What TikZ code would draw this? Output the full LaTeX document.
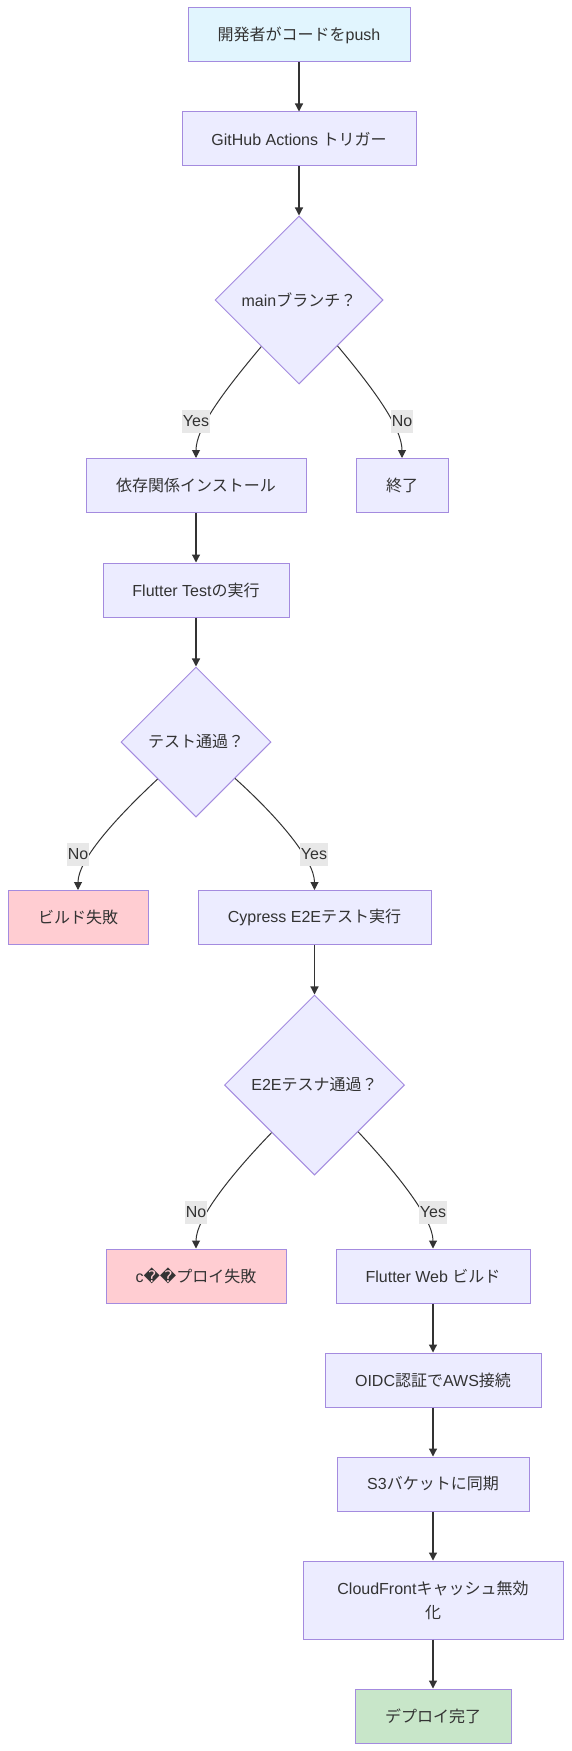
\documentclass[tikz,border=0pt]{standalone}
\usepackage{fontspec}
\setmainfont{Liberation Sans}
\newfontfamily\jpfont{Noto Sans CJK JP}
\newfontfamily\repfont{DejaVu Sans}
\newcommand{\jt}[1]{{\jpfont #1}}
\usetikzlibrary{shapes.geometric,arrows.meta}
\definecolor{nodefill}{HTML}{ECECFF}
\definecolor{nodeline}{HTML}{A48BDF}
\definecolor{startfill}{HTML}{E1F5FE}
\definecolor{failfill}{HTML}{FFCDD2}
\definecolor{donefill}{HTML}{C8E6C9}
\definecolor{ink}{HTML}{333333}
\definecolor{lblbg}{HTML}{E8E8E8}
\tikzset{
  box/.style={rectangle, draw=nodeline, fill=nodefill, line width=0.75pt,
    minimum height=40.5pt, inner sep=0pt, text=ink, align=center,
    font=\fontsize{12pt}{18pt}\selectfont},
  dia/.style={diamond, aspect=1, draw=nodeline, fill=nodefill, line width=0.75pt,
    inner sep=0pt, text=ink, font=\fontsize{12pt}{18pt}\selectfont},
  arr/.style={draw=ink, line width=0.9pt, -{Triangle[length=6pt,width=6pt]}},
  curv/.style={arr, line width=0.75pt, out distance=45pt, in distance=22pt},
  elabel/.style={rectangle, fill=lblbg, text=ink, inner xsep=0.5pt, inner ysep=0pt,
    minimum height=17.25pt, font=\fontsize{12pt}{14pt}\selectfont},
}
\begin{document}
\begin{tikzpicture}[x=0.75pt, y=-0.75pt]
\fill[white] (0,0) rectangle (571,1751);
\useasboundingbox (0,0) rectangle (571,1751);

\node[box, fill=startfill, minimum width=166.5pt] (push) at (299,35) {\jt{開発者がコードを}push};
\node[box, minimum width=175.5pt] (gha) at (299,139) {GitHub Actions \jt{トリガー}};
\node[dia, minimum width=126pt, minimum height=126pt] (d1) at (299,300) {main\jt{ブランチ？}};
\node[box, minimum width=165pt] (inst) at (196,485.5) {\jt{依存関係インストール}};
\node[box, minimum width=69pt] (fin) at (402,485.5) {\jt{終了}};
\node[box, minimum width=139.5pt] (ftest) at (196,590) {Flutter Test\jt{の実行}};
\node[dia, minimum width=112.5pt, minimum height=112.5pt] (d2) at (196,742) {\jt{テスト通過？}};
\node[box, fill=failfill, minimum width=105pt] (bfail) at (78,917.5) {\jt{ビルド失敗}};
\node[box, minimum width=174.75pt] (cyp) at (314.5,917.5) {Cypress E2E\jt{テスト実行}};
\node[dia, minimum width=135pt, minimum height=135pt] (d3) at (314.5,1085) {E2E\jt{テスナ通過？}};
\node[box, fill=failfill, minimum width=135pt] (dfail) at (196,1276) {c{\repfont ^^^^fffd^^^^fffd}\jt{プロイ失敗}};
\node[box, minimum width=145.5pt] (fweb) at (433,1276) {Flutter Web \jt{ビルド}};
\node[box, minimum width=162pt] (oidc) at (433,1380) {OIDC\jt{認証で}AWS\jt{接続}};
\node[box, minimum width=144pt] (s3) at (433,1484) {S3\jt{バケットに同期}};
\node[box, minimum width=195pt, minimum height=58.5pt] (cf) at (433,1600) {CloudFront\jt{キャッシュ無効}\\\jt{化}};
\node[box, fill=donefill, minimum width=117pt] (done) at (433,1716) {\jt{デプロイ完了}};

\draw[arr] (push) -- (gha);
\draw[arr] (gha) -- (d1);
\draw[curv] (d1.-129) to[out=-130, in=90] (inst.north);
\draw[curv] (d1.-50) to[out=-50, in=90] (fin.north);
\draw[arr] (inst) -- (ftest);
\draw[arr] (ftest) -- (d2);
\draw[curv] (d2.-136) to[out=-137, in=90] (bfail.north);
\draw[curv] (d2.-43) to[out=-42, in=90] (cyp.north);
\draw[arr] (cyp) -- (d3);
\draw[curv] (d3.-132) to[out=-134, in=90] (dfail.north);
\draw[curv] (d3.-47) to[out=-47, in=90] (fweb.north);
\draw[arr] (fweb) -- (oidc);
\draw[arr] (oidc) -- (s3);
\draw[arr] (s3) -- (cf);
\draw[arr] (cf) -- (done);

\node[elabel] (l1) at (196,421) {Yes};
\node[elabel] (l2) at (402,421) {No};
\node[elabel] (l3) at (78,854) {No};
\node[elabel] (l4) at (314,854) {Yes};
\node[elabel] (l5) at (196,1212) {No};
\node[elabel] (l6) at (433,1212) {Yes};
\end{tikzpicture}
\end{document}
